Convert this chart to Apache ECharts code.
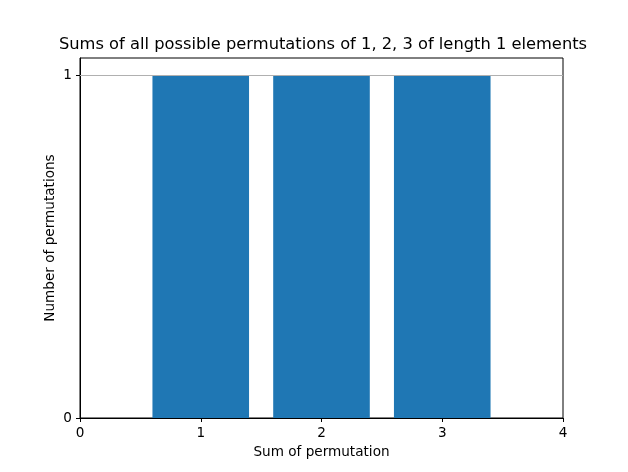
<!DOCTYPE html>
<html><head><meta charset="utf-8">
<script src="https://cdn.jsdelivr.net/npm/echarts@6/dist/echarts.min.js"></script>
<style>html,body{margin:0;padding:0;background:#fff}#c{width:628px;height:472px}</style>
</head><body><div id="c"></div>
<script>
const categories = [1, 2, 3];
const counts = [1, 1, 1];
const xTicks = [0, 1, 2, 3, 4];
const yTicks = [0, 1];
const refLines = [1];
const titleText = 'Sums of all possible permutations of 1, 2, 3 of length 1 elements';

const chart = echarts.init(document.getElementById('c'), null, {renderer: 'canvas'});
const font = 'DejaVu Sans';
chart.setOption({
  animation: false,
  title: {text: titleText, left: 318, top: 32, textAlign: 'center',
    textStyle: {fontFamily: font, fontSize: 16.3, fontWeight: 'normal', color: '#000'}},
  grid: {left: 80, right: 65, top: 58, bottom: 54, show: true, borderColor: '#000', borderWidth: 1, backgroundColor: 'transparent'},
  xAxis: {type: 'value', min: 0, max: 4, interval: 1,
    name: 'Sum of permutation', nameLocation: 'middle', nameGap: 27,
    nameTextStyle: {fontFamily: font, fontSize: 13.6, color: '#000'},
    axisLine: {show: true, lineStyle: {color: '#000', width: 1}},
    axisTick: {show: true, inside: false, length: 4, lineStyle: {color: '#000'}, customValues: xTicks},
    axisLabel: {fontFamily: font, fontSize: 13.6, color: '#000', margin: 8, customValues: xTicks},
    splitLine: {show: false}},
  yAxis: {type: 'value', min: 0, max: 1.05,
    name: 'Number of permutations', nameLocation: 'middle', nameGap: 23, nameMoveOverlap: false,
    nameTextStyle: {fontFamily: font, fontSize: 13.6, color: '#000'},
    axisLine: {show: true, lineStyle: {color: '#000', width: 1}},
    axisTick: {show: true, inside: false, length: 4, lineStyle: {color: '#000'}, customValues: yTicks},
    axisLabel: {fontFamily: font, fontSize: 13.6, color: '#000', margin: 8, customValues: yTicks},
    splitLine: {show: false}},
  series: [{
    type: 'custom',
    data: categories.map((c, i) => [c, counts[i]]),
    renderItem: function (params, api) {
      const x = api.value(0), y = api.value(1);
      const p0 = api.coord([x - 0.4, y]);
      const p1 = api.coord([x + 0.4, 0]);
      return {type: 'rect', shape: {x: p0[0], y: p0[1], width: p1[0] - p0[0], height: p1[1] - p0[1]},
        style: {fill: '#1f77b4'}};
    },
    markLine: {silent: true, symbol: 'none', label: {show: false},
      lineStyle: {color: '#b0b0b0', width: 1, type: 'solid'},
      data: refLines.map(v => ({yAxis: v}))},
    z: 2
  }]
});
</script></body></html>
